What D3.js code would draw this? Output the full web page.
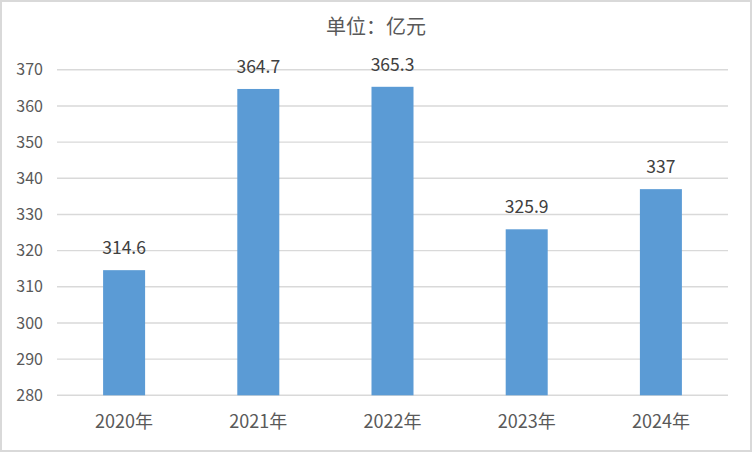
<!DOCTYPE html>
<html><head><meta charset="utf-8">
<script src="https://cdn.jsdelivr.net/npm/d3@7/dist/d3.min.js"></script>
<style>body{margin:0;background:#fff}svg{display:block}</style>
</head><body>
<script>
const categories = ["2020年","2021年","2022年","2023年","2024年"];
const values = [314.6, 364.7, 365.3, 325.9, 337];
const valueLabels = ["314.6","364.7","365.3","325.9","337"];
const yTicks = [280,290,300,310,320,330,340,350,360,370];
const title = "单位：亿元";

const W = 752, H = 452;
const m = {left:57, right:24, top:69.8, bottom:56.7};
const svg = d3.select("body").append("svg").attr("width",W).attr("height",H);
const font = "'Noto Sans CJK SC','Microsoft YaHei',sans-serif";
const txt = "#595959";

svg.append("rect").attr("x",1).attr("y",1).attr("width",W-2).attr("height",H-2)
  .attr("fill","#fff").attr("stroke","#d9d9d9").attr("stroke-width",2);

const x = d3.scaleBand().domain(categories).range([m.left, W-m.right]).paddingInner(0.687).paddingOuter(0.3435);
const y = d3.scaleLinear().domain([280,370]).range([H-m.bottom, m.top]);

// gridlines
svg.append("g").selectAll("line").data(yTicks).join("line")
  .attr("x1",m.left).attr("x2",W-m.right)
  .attr("y1",d=>y(d)).attr("y2",d=>y(d))
  .attr("stroke","#d9d9d9").attr("stroke-width",1.4);

// y axis labels
const ya = svg.append("g").attr("transform",`translate(${m.left-14},0)`)
  .call(d3.axisLeft(y).tickValues(yTicks).tickSize(0).tickPadding(0));
ya.select(".domain").remove();
ya.selectAll("text").attr("font-family",font).attr("font-size",16).attr("fill",txt);

// bars
svg.append("g").selectAll("rect").data(values).join("rect")
  .attr("x",(d,i)=>x(categories[i])).attr("width",x.bandwidth())
  .attr("y",d=>y(d)).attr("height",d=>y(280)-y(d))
  .attr("fill","#5b9bd5");

// value labels
svg.append("g").selectAll("text").data(values).join("text")
  .attr("x",(d,i)=>x(categories[i])+x.bandwidth()/2)
  .attr("y",d=>y(d)-16)
  .attr("text-anchor","middle").attr("font-family",font).attr("font-size",17.5).attr("fill","#404040")
  .text((d,i)=>valueLabels[i]);

// x axis
const xa = svg.append("g").attr("transform",`translate(0,${H-m.bottom})`)
  .call(d3.axisBottom(x).tickSize(0).tickPadding(20));
xa.select(".domain").remove();
xa.selectAll("text").attr("font-family",font).attr("font-size",18).attr("fill",txt);

// title
svg.append("text").attr("x",376).attr("y",34).attr("text-anchor","middle")
  .attr("font-family",font).attr("font-size",20).attr("fill",txt).text(title);
</script>
</body></html>
